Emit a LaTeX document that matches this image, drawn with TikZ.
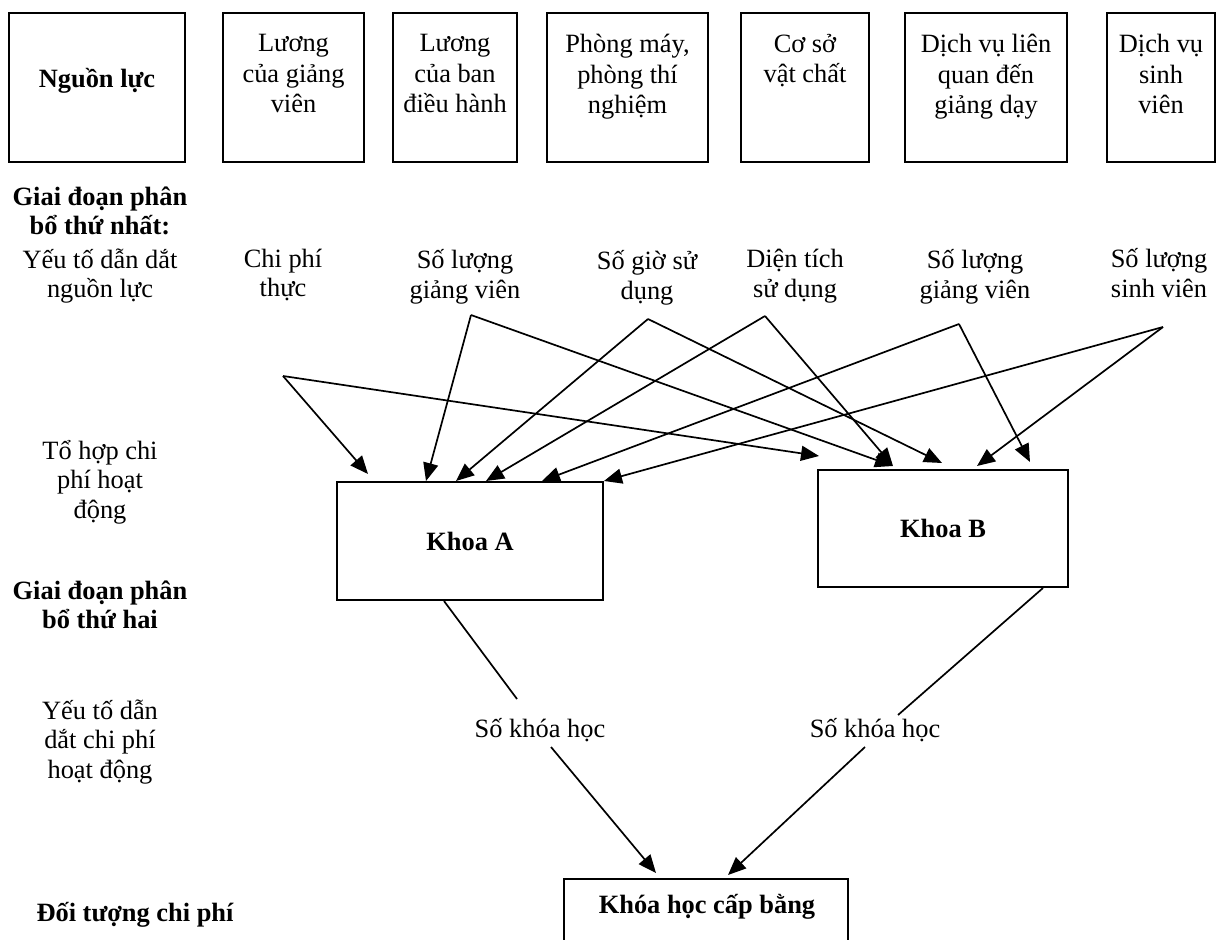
\documentclass[tikz,border=0pt]{standalone}
\usepackage{fontspec}
\setmainfont{Liberation Serif}
\usetikzlibrary{arrows.meta,positioning,calc}
\newcommand{\figfont}{\fontsize{13.2}{14.8}\selectfont}

\begin{document}
\begin{tikzpicture}[x=0.5pt,y=-0.5pt,font=\figfont,
	bold/.style={font=\figfont\bfseries},
	arr/.style={-{Triangle[length=9pt,width=7.5pt]},line width=0.85pt},
	lnk/.style={line width=0.85pt}]
	\useasboundingbox (0,0) rectangle (1219,940);
	\clip (0,0) rectangle (1219,940);
	\begin{scope}[every node/.style={rectangle,draw,line width=1pt,minimum height=74.5pt,inner sep=0pt}]
		\node[minimum width=88pt] (NL) at (97,87.5) {};
		\node[minimum width=70.5pt] (LGV) at (293.5,87.5) {};
		\node[minimum width=62pt] (LBDH) at (455,87.5) {};
		\node[minimum width=80.5pt] (PM) at (627.5,87.5) {};
		\node[minimum width=64pt] (CSVC) at (805,87.5) {};
		\node[minimum width=81pt] (DVGD) at (986,87.5) {};
		\node[minimum width=54pt] (DVSV) at (1161,87.5) {};
		\node[minimum width=133pt,minimum height=59pt,bold] (KA) at (470,541) {Khoa A};
		\node[minimum width=125pt,minimum height=58.5pt,bold] (KB) at (943,528.5) {Khoa B};
		\node[minimum width=142pt,minimum height=60pt,anchor=north] (KH) at (706,878) {};
	\end{scope}

	\begin{scope}[every node/.style={align=center,inner sep=0pt,font=\fontsize{13.2}{15.2}\selectfont}]
		\node[bold] (NLt) at (97,81) {Nguồn lực};
		\node[below=11pt of LGV.north] (LGVt) {Lương\\của giảng\\viên};
		\node[below=11pt of LBDH.north] (LBDHt) {Lương\\của ban\\điều hành};
		\node[below=11pt of PM.north] (PMt) {Phòng máy,\\phòng thí\\nghiệm};
		\node[below=11pt of CSVC.north] (CSVCt) {Cơ sở\\vật chất};
		\node[below=11pt of DVGD.north] (DVGDt) {Dịch vụ liên\\quan đến\\giảng dạy};
		\node[below=11pt of DVSV.north] (DVSVt) {Dịch vụ\\sinh\\viên};
	\end{scope}

	\begin{scope}[every node/.style={align=center,inner sep=0pt}]
		\node[bold] (GD1) at (100,211) {Giai đoạn phân\\bổ thứ nhất:};
		\node (YT1) at (100,276) {Yếu tố dẫn dắt\\nguồn lực};
		\node (CP) at (283,275) {Chi phí\\thực};
		\node (SLGV) at (465,277) {Số lượng\\giảng viên};
		\node (SGSD) at (647,278) {Số giờ sử\\dụng};
		\node (DTSD) at (795,276) {Diện tích\\sử dụng};
		\node (SLGV2) at (975,277) {Số lượng\\giảng viên};
		\node (SLSV) at (1159,273) {Số lượng\\sinh viên};
		\node (TH) at (100,482) {Tổ hợp chi\\phí hoạt\\động};
		\node[bold] (GD2) at (100,605) {Giai đoạn phân\\bổ thứ hai};
		\node (YT2) at (100,742) {Yếu tố dẫn\\dắt chi phí\\hoạt động};
		\node (SKA) at (540,730) {Số khóa học};
		\node (SKB) at (875,730) {Số khóa học};
		\node[bold] (DT) at (135,915) {Đối tượng chi phí};
		\node[bold] (KHt) at (707,907) {Khóa học cấp bằng};
	\end{scope}

	\coordinate (cp) at (283,376);
	\coordinate (gv1) at (471,315);
	\coordinate (sg) at (648,319);
	\coordinate (dt) at (765,316);
	\coordinate (gv2) at (959,324);
	\coordinate (sv) at (1163,327);
	\coordinate (skAin) at (517,699);
	\coordinate (skAout) at (551,747);
	\coordinate (skBin) at (898,715);
	\coordinate (skBout) at (865,747);

	\draw (cp) edge[arr] ($(KA.north west)+(32,-7)$) edge[arr] ($(KB.north west)+(2,-13)$);
	\draw (gv1) edge[arr] ($(KA.north west)+(90,0)$) edge[arr] ($(KB.north west)+(76,-3)$);
	\draw (sg) edge[arr] ($(KA.north west)+(120,0)$) edge[arr] ($(KB.north west)+(125,-6)$);
	\draw (dt) edge[arr] ($(KA.north west)+(150,0)$) edge[arr] ($(KB.north west)+(76,-3)$);
	\draw (gv2) edge[arr] ($(KA.north west)+(206,0)$) edge[arr] ($(KB.north west)+(213,-7)$);
	\draw (sv) edge[arr] (KA.north east) edge[arr] ($(KB.north west)+(160,-3)$);
	\draw[lnk] ($(KA.south west)+(108,0)$) -- (skAin);
	\draw[lnk] ($(KB.south west)+(226,0)$) -- (skBin);
	\draw[arr] (skAout) -- ($(KH.north west)+(93,-5)$);
	\draw[arr] (skBout) -- ($(KH.north west)+(165,-3)$);
\end{tikzpicture}
\end{document}
